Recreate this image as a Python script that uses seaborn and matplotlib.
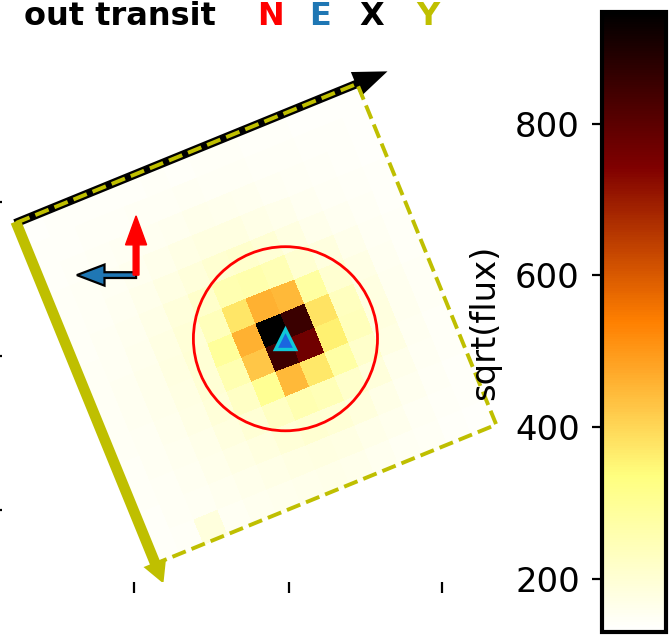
import numpy as np
import matplotlib
matplotlib.use("Agg")
import matplotlib.pyplot as plt
from matplotlib.transforms import Affine2D
from matplotlib.patches import Circle
import seaborn as sns

# out-of-transit image, sqrt(flux) per pixel (row 0 = top row of the stamp)
flux_rows = [
    [138, 140, 141, 140, 142, 143, 142, 144, 143, 141, 140, 139, 138, 137],
    [140, 142, 143, 145, 146, 148, 150, 149, 147, 145, 143, 141, 140, 138],
    [141, 144, 147, 150, 153, 158, 162, 160, 156, 152, 148, 144, 141, 139],
    [143, 146, 150, 156, 163, 172, 180, 178, 170, 162, 154, 148, 143, 140],
    [144, 148, 154, 163, 175, 190, 205, 210, 198, 180, 165, 154, 146, 141],
    [145, 150, 158, 170, 188, 215, 255, 262, 250, 205, 182, 162, 150, 143],
    [146, 152, 160, 175, 195, 240, 375, 461, 449, 281, 205, 172, 154, 145],
    [147, 153, 162, 178, 200, 290, 461, 945, 853, 380, 235, 180, 156, 146],
    [147, 153, 162, 177, 198, 255, 424, 845, 767, 359, 240, 182, 157, 146],
    [146, 152, 160, 174, 192, 225, 305, 449, 371, 275, 215, 175, 154, 145],
    [145, 150, 157, 168, 182, 200, 228, 255, 245, 215, 190, 165, 151, 144],
    [144, 148, 154, 162, 172, 182, 195, 205, 198, 185, 170, 157, 148, 142],
    [142, 146, 151, 157, 163, 170, 176, 180, 176, 168, 159, 151, 145, 140],
    [140, 144, 185, 152, 156, 160, 164, 166, 163, 158, 152, 147, 142, 139],
]
flux_min, flux_max = 130, 947
cbar_ticks = [200, 400, 600, 800]

# target and aperture (axis units)
target_x, target_y = 8.11, 7.57
aperture_radius = 3.5

# detector orientation on the sky (degrees)
rotation_deg = -22.2

title_text = "out transit"
key_letters = ["N", "E", "X", "Y"]
key_colors = ["red", "tab:blue", "black", "y"]

# ---- layout ----
sns.set_style("ticks")
plt.rcParams["font.family"] = "DejaVu Sans"

W, H, DPI = 669, 637, 200
fig = plt.figure(figsize=(W / DPI, H / DPI), dpi=DPI)

PX = 26.3                       # screen pixels per detector pixel
left, top, right, bottom = 2, 22, 530, 582
anchor = (256.25, 323.75)       # where the stamp centre lands on screen
ax = fig.add_axes([left / W, 1 - bottom / H, (right - left) / W, (bottom - top) / H])
cax = fig.add_axes([602 / W, 1 - 632 / H, 64 / W, 620 / H])

img = np.array(flux_rows, dtype=float)
n = img.shape[0]
c0 = n / 2

sns.heatmap(img, ax=ax, cbar_ax=cax, cmap="afmhot_r", vmin=flux_min, vmax=flux_max,
            xticklabels=False, yticklabels=False,
            cbar_kws={"ticks": cbar_ticks})

# rotate the stamp into sky orientation
img_tr = Affine2D().rotate_deg_around(c0, c0, rotation_deg) + ax.transData
ax.collections[0].set_transform(img_tr)

# detector X / Y axes and stamp outline
ax.arrow(0, 0, n, 0, width=0.22, head_width=0.85, head_length=1.1,
         fc="k", ec="k", transform=img_tr, zorder=3)
ax.plot([0, n, n, 0, 0], [0, 0, n, n, 0], ls="--", lw=1.4, color="y",
        transform=img_tr, zorder=4)
ax.arrow(0, 0, 0, n, width=0.3, head_width=0.75, head_length=0.7,
         fc="y", ec="y", transform=img_tr, zorder=5)

# compass
ox, oy, L = 2.43, 5.15, 2.25
ax.arrow(ox, oy, -L, 0, width=0.22, head_width=0.8, head_length=1.05,
         length_includes_head=True, fc="tab:blue", ec="k", lw=0.8, zorder=6)
ax.arrow(ox, oy, 0, -L, width=0.22, head_width=0.8, head_length=1.1,
         length_includes_head=True, fc="red", ec="red", lw=0.5, zorder=7)

# aperture + target
ax.add_patch(Circle((target_x, target_y), aperture_radius, fill=False,
                    ec="red", lw=1.0, zorder=8))
ax.plot(target_x, target_y, marker="^", ms=7.5, mfc="#1a66e0", mec="#10c8d8",
        mew=1.2, ls="none", zorder=9)

x0 = c0 - (anchor[0] - left) / PX
ax.set_xlim(x0, x0 + (right - left) / PX)
y0 = c0 - (anchor[1] - top) / PX
ax.set_ylim(y0 + (bottom - top) / PX, y0)

tick_pos = [2.36, 8.23, 14.07]
ax.set_xticks(tick_pos)
ax.set_yticks(tick_pos)
ax.set_xticklabels([])
ax.set_yticklabels([])
ax.tick_params(length=4, width=0.8, color="k", bottom=True, left=True)

# colorbar on the left side
cb = ax.collections[0].colorbar
cb.outline.set_linewidth(1.5)
cb.outline.set_edgecolor("k")
cax.yaxis.set_ticks_position("left")
cax.yaxis.set_label_position("left")
cax.tick_params(labelsize=12.2, length=3.5, width=0.8, pad=4.5, colors="k")
cb.set_label("sqrt(flux)", fontsize=12.2, labelpad=5, color="k")

# header text
fig.text(24 / W, 1 - 25 / H, title_text, fontsize=11.5, fontweight="bold",
         color="k", va="baseline")
for letter, col, xp in zip(key_letters, key_colors, [257, 309, 359, 416]):
    fig.text(xp / W, 1 - 25 / H, letter, fontsize=11.5, fontweight="bold",
             color=col, va="baseline")

fig.savefig("out.png", dpi=DPI)
